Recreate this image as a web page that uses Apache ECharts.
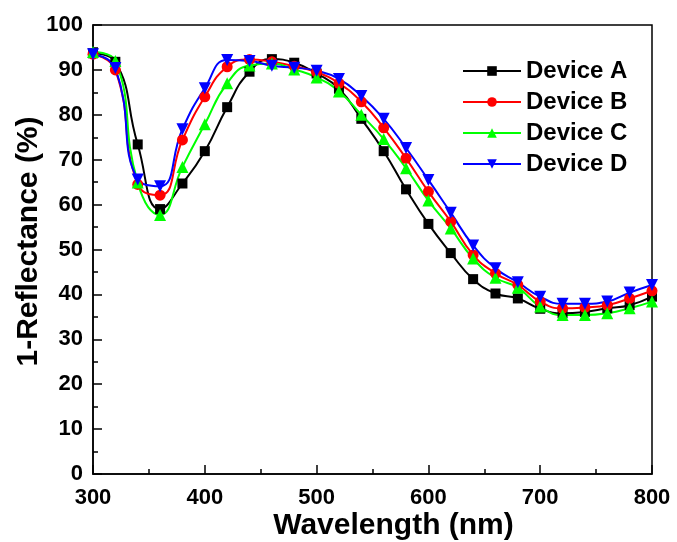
<!DOCTYPE html>
<html>
<head>
<meta charset="utf-8">
<script src="https://cdn.jsdelivr.net/npm/echarts@6/dist/echarts.min.js"></script>
<style>
html,body{margin:0;padding:0;background:#fff;}
#char01{width:677px;height:542px;}
</style>
</head>
<body>
<div id="char01"></div>
<script>
// wavelength (nm), every 20 nm
var wavelength = [300,320,340,360,380,400,420,440,460,480,500,520,540,560,580,600,620,640,660,680,700,720,740,760,780,800];
// 1-Reflectance (%)
var deviceA = [93.7,91.8,73.4,59.0,64.7,71.9,81.7,89.6,92.4,91.6,89.2,85.8,79.1,71.9,63.4,55.7,49.2,43.4,40.2,39.1,36.8,35.8,36.1,36.9,37.6,39.5];
var deviceB = [93.5,90.0,64.5,62.1,74.4,84.0,90.7,92.3,91.8,90.8,89.5,87.0,82.9,77.1,70.3,62.9,56.2,48.8,44.7,42.1,38.4,36.9,37.1,37.6,39.1,40.8];
var deviceC = [94.0,92.0,64.9,57.7,68.4,77.9,87.0,91.0,91.4,90.1,88.3,85.2,80.0,74.6,68.1,60.9,54.7,48.0,43.7,41.5,37.3,35.4,35.4,35.8,36.9,38.4];
var deviceD = [93.5,90.4,65.6,64.1,76.8,85.9,92.2,92.0,90.9,90.5,89.8,88.0,84.2,79.1,72.6,65.5,58.2,50.9,45.8,42.7,39.5,37.9,37.9,38.4,40.4,42.1];
var seriesNames = ['Device A','Device B','Device C','Device D'];
var xTicks = [300,400,500,600,700,800];
var yTicks = [0,10,20,30,40,50,60,70,80,90,100];

function pairs(vals){
    return wavelength.map(function(w,i){ return [w, vals[i]]; });
}

var fontFam = '"Liberation Sans", Arial, sans-serif';

function makeSeries(name, vals, color, symbol, size, rotate){
    return {
        name: name,
        type: 'line',
        data: pairs(vals),
        smooth: 0.5,
        symbol: symbol,
        symbolSize: size,
        symbolRotate: rotate,
        lineStyle: { color: color, width: 2 },
        itemStyle: { color: color },
        emphasis: { disabled: true }
    };
}

var chartDom01 = document.getElementById('char01');
var myChart01 = echarts.init(chartDom01, null, { renderer: 'canvas' });
var option01 = {
    backgroundColor: '#fff',
    animation: false,
    grid: {
        left: 93, right: 25, top: 25, bottom: 68,
        outerBoundsMode: 'none',
        containLabel: false,
        show: true,
        borderColor: '#000',
        borderWidth: 1.5
    },
    legend: {
        orient: 'vertical',
        left: 457,
        top: 54,
        itemWidth: 58,
        itemHeight: 12,
        itemGap: 7,
        data: seriesNames,
        textStyle: {
            color: '#000',
            fontSize: 24,
            fontWeight: 'bold',
            fontFamily: fontFam,
            lineHeight: 24
        }
    },
    xAxis: {
        type: 'value',
        min: xTicks[0],
        max: xTicks[xTicks.length - 1],
        interval: 100,
        name: 'Wavelength (nm)',
        nameLocation: 'middle',
        nameGap: 37,
        nameMoveOverlap: false,
        nameTextStyle: { color: '#000', fontSize: 30, fontWeight: 'bold', fontFamily: fontFam, padding: [0, 0, 0, 42] },
        axisLine: { lineStyle: { color: '#000', width: 1.5 } },
        axisTick: { inside: true, length: 9, lineStyle: { color: '#000', width: 1.5 } },
        minorTick: { show: true, splitNumber: 2, length: 5, lineStyle: { color: '#000', width: 1.5 } },
        axisLabel: { color: '#000', fontSize: 22, fontWeight: 'bold', fontFamily: fontFam, margin: 13 },
        splitLine: { show: false }
    },
    yAxis: {
        type: 'value',
        min: yTicks[0],
        max: yTicks[yTicks.length - 1],
        interval: 10,
        name: '1-Reflectance (%)',
        nameLocation: 'middle',
        nameGap: 49,
        nameMoveOverlap: false,
        nameTextStyle: { color: '#000', fontSize: 30, fontWeight: 'bold', fontFamily: fontFam, padding: [0, 0, 0, 16] },
        axisLine: { show: true, lineStyle: { color: '#000', width: 1.5 } },
        axisTick: { show: true, inside: true, length: 9, lineStyle: { color: '#000', width: 1.5 } },
        minorTick: { show: true, splitNumber: 2, length: 5, lineStyle: { color: '#000', width: 1.5 } },
        axisLabel: { color: '#000', fontSize: 22, fontWeight: 'bold', fontFamily: fontFam, margin: 10 },
        splitLine: { show: false }
    },
    series: [
        makeSeries(seriesNames[0], deviceA, '#000000', 'rect', 10, 0),
        makeSeries(seriesNames[1], deviceB, '#ff0000', 'circle', 11, 0),
        makeSeries(seriesNames[2], deviceC, '#00ff00', 'triangle', 12, 0),
        makeSeries(seriesNames[3], deviceD, '#0000ff', 'triangle', 12, 180)
    ]
};
myChart01.setOption(option01);
</script>
</body>
</html>
